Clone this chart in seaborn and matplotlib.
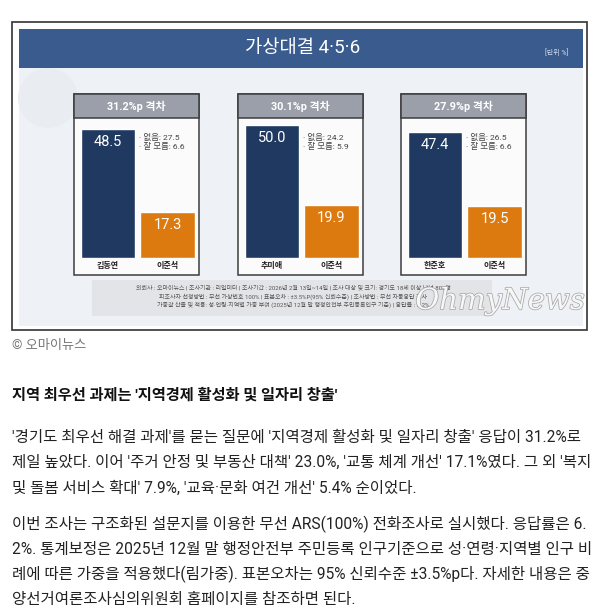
import matplotlib
matplotlib.use("Agg")
import matplotlib.pyplot as plt
import matplotlib.patches as mpatches
import matplotlib.patheffects as pe
import pandas as pd
import seaborn as sns

W, H = 591, 615

# chart values
gap_labels = ["31.2%p 격차", "30.1%p 격차", "27.9%p 격차"]
candidates = ["김동연", "추미애", "한준호"]
candidate_values = [48.5, 50.0, 47.4]
rival = "이준석"
rival_values = [17.3, 19.9, 19.5]
none_values = [27.5, 24.2, 26.5]
dunno_values = [6.6, 5.9, 6.6]

title = "가상대결 4·5·6"
unit = "[단위 %]"
notes = [
    "의뢰사 : 오마이뉴스 | 조사기관 : 리얼미터 | 조사기간 : 2026년 2월 13일~14일 | 조사 대상 및 크기: 경기도 18세 이상 남녀 802명",
    "피조사자 선정방법 : 무선 가상번호 100% | 표본오차 : ±3.5%P(95% 신뢰수준) | 조사방법 : 무선 자동응답 조사",
    "가중값 산출 및 적용: 성·연령·지역별 가중 부여 (2025년 12월 말 행정안전부 주민등록인구 기준) | 응답률 : 6.2%",
]

caption = "© 오마이뉴스"
heading = "지역 최우선 과제는 '지역경제 활성화 및 일자리 창출'"
para1 = [
    "'경기도 최우선 해결 과제'를 묻는 질문에 '지역경제 활성화 및 일자리 창출' 응답이 31.2%로",
    "제일 높았다. 이어 '주거 안정 및 부동산 대책' 23.0%, '교통 체계 개선' 17.1%였다. 그 외 '복지",
    "및 돌봄 서비스 확대' 7.9%, '교육·문화 여건 개선' 5.4% 순이었다.",
]
para2 = [
    "이번 조사는 구조화된 설문지를 이용한 무선 ARS(100%) 전화조사로 실시했다. 응답률은 6.",
    "2%. 통계보정은 2025년 12월 말 행정안전부 주민등록 인구기준으로 성·연령·지역별 인구 비",
    "례에 따른 가중을 적용했다(림가중). 표본오차는 95% 신뢰수준 ±3.5%p다. 자세한 내용은 중",
    "양선거여론조사심의위원회 홈페이지를 참조하면 된다.",
]

NAVY = "#1f3960"
ORANGE = "#dc7a0f"
BANNER = "#395b8d"
PANEL_BG = "#eef1f6"
HEADER = "#9b9fa9"

sns.set_theme(style="white")
plt.rcParams["font.family"] = ["Roboto", "Noto Sans CJK KR", "DejaVu Sans"]


def box(x, y, w, h):
    # pixel box (top-left origin) -> figure fraction
    return [x / W, 1 - (y + h) / H, w / W, h / H]


fig = plt.figure(figsize=(W / 100, H / 100), dpi=100)
bg = fig.add_axes([0, 0, 1, 1])
bg.set_xlim(0, W)
bg.set_ylim(H, 0)
bg.axis("off")

# chart image frame
bg.add_patch(mpatches.Rectangle((12, 22), 575, 308, facecolor="white", edgecolor="#333333", lw=1.2))
bg.add_patch(mpatches.Rectangle((19, 68), 564, 258, facecolor=PANEL_BG, edgecolor="none"))
bg.add_patch(mpatches.Circle((48, 98), 30, facecolor="#e9ecf1", edgecolor="none"))
bg.add_patch(mpatches.Rectangle((19, 29), 564, 39, facecolor=BANNER, edgecolor="none"))
bg.text(303, 48, title, color="white", fontsize=13.5, ha="center", va="center")
bg.text(557, 53, unit, color="#d8dff0", fontsize=5, ha="center", va="center")

# footnote box + watermark
bg.add_patch(mpatches.Rectangle((92, 280), 400, 36, facecolor="#e3e4e7", edgecolor="none"))
for i, line in enumerate(notes):
    bg.text(293, 288 + i * 8.5, line, color="#555555", fontsize=4.3, ha="center", va="center")
bg.text(500, 301, "OhmyNews", family="DejaVu Serif", style="italic", fontsize=21,
        color="#f7f7f7", ha="center", va="center",
        path_effects=[pe.withStroke(linewidth=1.1, foreground="#a8a8a8")])

panel_left = [74, 238, 401]
pw, top, head_h, bar_top, bottom = 125, 94, 24, 118, 275
px_per_pct = 2.66

for i in range(3):
    L = panel_left[i]
    bg.add_patch(mpatches.Rectangle((L, top), pw, bottom - top, facecolor="#fbfbfc",
                                    edgecolor="#3d3d3d", lw=1.1, zorder=3))
    bg.add_patch(mpatches.Rectangle((L, top), pw, head_h, facecolor=HEADER,
                                    edgecolor="#3d3d3d", lw=1.1, zorder=3))
    bg.text(L + pw / 2, top + head_h / 2, gap_labels[i], color="white", fontsize=7.8,
            fontweight="bold", ha="center", va="center", zorder=4)
    bg.text(L + 65, 137, f"· 없음: {none_values[i]}", color="#444444", fontsize=6.1,
            va="center", zorder=4)
    bg.text(L + 65, 146, f"· 잘 모름: {dunno_values[i]}", color="#444444", fontsize=6.1,
            va="center", zorder=4)

    df = pd.DataFrame({"name": [candidates[i], rival],
                       "value": [candidate_values[i], rival_values[i]]})
    ax = fig.add_axes(box(L, bar_top, pw, 258 - bar_top), zorder=5)
    ax.set_facecolor("none")
    sns.barplot(data=df, x="name", y="value", hue="name", palette=[NAVY, ORANGE],
                legend=False, width=0.92, saturation=1, ax=ax)
    ax.set_xlim(-0.571, 1.529)
    ax.set_ylim(0, (258 - bar_top) / px_per_pct)
    for j, v in enumerate(df["value"]):
        ax.text(j, v - 4.9, f"{v:.1f}", color="white", fontsize=10.5, ha="center", va="center")
    ax.set_xlabel("")
    ax.set_ylabel("")
    ax.set_yticks([])
    ax.tick_params(axis="x", length=0, pad=2.5, labelsize=5.8, colors="#222222")
    for t in ax.get_xticklabels():
        t.set_fontweight("bold")
    sns.despine(ax=ax, left=True, bottom=True)

# article text
bg.text(12, 346, caption, color="#777777", fontsize=9.5, va="center")
bg.text(12, 395, heading, color="#111111", fontsize=11, fontweight="bold", va="center")
for k, line in enumerate(para1):
    bg.text(12, 437 + k * 25.5, line, color="#222222", fontsize=11.2, va="center")
for k, line in enumerate(para2):
    bg.text(12, 524 + k * 25.3, line, color="#222222", fontsize=11.2, va="center")

fig.savefig("out.png", dpi=100)
